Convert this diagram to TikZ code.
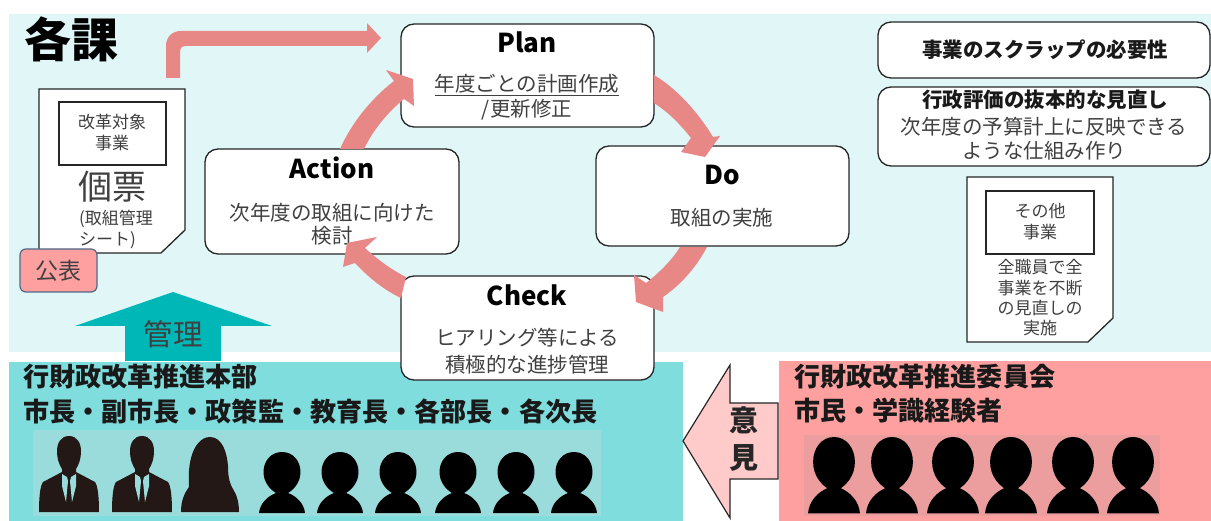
\documentclass[tikz,border=0pt]{standalone}
\usepackage{fontspec}
\setmainfont{Noto Sans CJK JP}
\definecolor{palebg}{HTML}{E0F6F7}
\definecolor{tealbg}{HTML}{7FDEDD}
\definecolor{pinkbg}{HTML}{FFA0A0}
\definecolor{tealband}{HTML}{9ADCDB}
\definecolor{pinkband}{HTML}{EC9E9E}
\definecolor{cyc}{HTML}{E88886}
\definecolor{upteal}{HTML}{00B7B8}
\definecolor{opin}{HTML}{FFCACA}
\definecolor{body}{HTML}{404040}
\definecolor{suit}{HTML}{231815}
\definecolor{slate}{HTML}{50688A}
\tikzset{
 cardbox/.style={draw=black!85,line width=1.3pt,fill=white,rounded corners=13pt},
 docbox/.style={draw=black!85,line width=1.3pt,fill=white},
 inbox/.style={draw=black!85,line width=1.3pt},
 cycarrow/.style={fill=cyc,draw=none},
 txt/.style={text=body,font=\fontsize{20.5}{24}\selectfont,inner sep=0pt},
 small/.style={text=body,font=\fontsize{17}{20}\selectfont,inner sep=0pt},
 ttl/.style={text=black,font=\fontsize{26}{30}\selectfont\bfseries,inner sep=0pt},
 bld/.style={text=black!90,font=\fontsize{20.5}{24}\selectfont\bfseries,inner sep=0pt},
 hdr/.style={text=black!90,font=\fontsize{26.1}{30}\selectfont\bfseries,inner sep=0pt,anchor=west},
}
\newcommand{\blob}[4]{% cx, head top, scale x, scale y
 \begin{scope}[shift={(#1,#2)},xscale=#3,yscale=#4]
  \fill[black] (0,0) .. controls (11,0) and (18.5,9) .. (18.5,20)
   .. controls (18.5,31) and (11,38) .. (6,41)
   .. controls (14,44) and (22,51) .. (23,61) -- (-23,61)
   .. controls (-22,51) and (-14,44) .. (-6,41)
   .. controls (-11,38) and (-18.5,31) .. (-18.5,20)
   .. controls (-18.5,9) and (-11,0) .. (0,0) -- cycle;
 \end{scope}}
\newcommand{\suitman}[1]{%
 \begin{scope}[shift={(#1,436)}]
  \fill[suit] (0,0) .. controls (8,0) and (12,7) .. (12,15)
   .. controls (12,24) and (9,30) .. (7,33) -- (7,36) -- (26,46)
   .. controls (29,50) and (30,62) .. (30,76) -- (-30,76)
   .. controls (-30,62) and (-29,50) .. (-26,46) -- (-7,36) -- (-7,33)
   .. controls (-9,30) and (-12,24) .. (-12,15)
   .. controls (-12,7) and (-8,0) .. (0,0) -- cycle;
  \fill[tealband] (-7,38) -- (-2,41) -- (-1,45) -- (-3,66) -- (-7,50) -- cycle;
  \fill[tealband] (7,38) -- (2,41) -- (1,45) -- (3,66) -- (7,50) -- cycle;
 \end{scope}}
\begin{document}
\begin{tikzpicture}[x=1pt,y=-1pt]
\useasboundingbox (0,0) rectangle (1211,521);
\fill[white] (0,0) rectangle (1211,521);
\fill[palebg] (9,14) rectangle (1211,352);
\fill[tealbg] (9,362) rectangle (683,521);
\fill[pinkbg] (779,361) rectangle (1211,521);
\fill[tealband] (33,430) rectangle (601,516);
\fill[pinkband] (804,435) rectangle (1160,516);

% title
\node[inner sep=0pt,text=black,font=\fontsize{47}{50}\selectfont\bfseries] (kaku) at (71,39) {各課};

% top arrow
\fill[cycarrow] (166,78) -- (166,46) .. controls (166,37) and (172,31) .. (181,31) -- (367,31) -- (367,23) -- (381,38) -- (367,53) -- (367,46) -- (186,46) .. controls (182,46) and (180,48) .. (180,52) -- (180,78) -- cycle;

% left document
\draw[docbox] (39,89) -- (185,89) -- (185,230) -- (161,253) -- (39,253) -- cycle;
\node[inbox,minimum width=107pt,minimum height=63pt,inner sep=0pt] (leftin) at (112.5,133.5) {};
\node[small] (l1) at (112,122) {改革対象};
\node[small] (l2) at (112,143) {事業};
\node[inner sep=0pt,text=body,font=\fontsize{34}{36}\selectfont] (l3) at (112,187) {個票};
\node[small,anchor=west] (l4) at (79,219) {(取組管理};
\node[small,anchor=west] (l5) at (79,240) {シート)};
\node[draw=slate,line width=1.2pt,fill=pinkbg,rounded corners=6pt,minimum width=77pt,minimum height=43pt,inner sep=0pt,text=body,font=\fontsize{23}{26}\selectfont] (pub) at (58.5,270.5) {公表};

% up arrow
\fill[upteal] (173,292) -- (272,326) -- (221,326) -- (221,361) -- (125,361) -- (125,326) -- (75,326) -- cycle;
\node[inner sep=0pt,text=body,font=\fontsize{29.5}{32}\selectfont] (kanri) at (173,334) {管理};

% cards
\node[cardbox,minimum width=253pt,minimum height=103pt] (plan) at (527.5,75.5) {};
\node[cardbox,minimum width=253pt,minimum height=100pt] (do) at (722.5,196) {};
\node[cardbox,minimum width=253pt,minimum height=104pt] (check) at (527.5,328) {};
\node[cardbox,minimum width=254pt,minimum height=105pt] (action) at (332,201.5) {};
\node[ttl] (t1) at (527,42) {Plan};
\node[txt] (t2) at (527,85) {\underline{年度ごとの計画作成}};
\node[txt] (t3) at (527,110) {/更新修正};
\node[ttl] (t4) at (722,175) {Do};
\node[txt] (t5) at (722,218) {取組の実施};
\node[ttl] (t6) at (527,295) {Check};
\node[txt] (t7) at (527,338) {ヒアリング等による};
\node[txt] (t8) at (527,365) {積極的な進捗管理};
\node[ttl] (t9) at (332,168) {Action};
\node[txt] (t10) at (332,213) {次年度の取組に向けた};
\node[txt] (t11) at (332,236) {検討};

% cycle arrows
\fill[cycarrow] (340,149) .. controls (352,122) and (372,98) .. (394,81) -- (386,70) -- (413,79) -- (414,106) -- (404,99) .. controls (388,112) and (373,130) .. (364,149) -- cycle;
\fill[cycarrow] (654,75) .. controls (676,88) and (698,112) .. (713,137) -- (720,136) -- (705,157) -- (681,152) -- (691,138) .. controls (680,124) and (668,112) .. (654,103) -- cycle;
\fill[cycarrow] (707,247) .. controls (697,266) and (682,284) .. (663,297) -- (663,312) -- (636,302) -- (634,275) -- (646,283) .. controls (660,272) and (672,260) .. (680,247) -- cycle;
\fill[cycarrow] (401,298) .. controls (384,290) and (369,278) .. (355,263) -- (343,267) -- (347,243) -- (377,237) -- (365,248) .. controls (378,260) and (392,270) .. (406,277) -- cycle;

% right column
\node[cardbox,minimum width=332pt,minimum height=56pt] (scrap) at (1044,50) {};
\node[bld] (r1) at (1045,50) {事業のスクラップの必要性};
\node[cardbox,minimum width=332pt,minimum height=79pt] (hyoka) at (1044,126.5) {};
\node[bld] (r2) at (1045,100) {行政評価の抜本的な見直し};
\node[txt] (r3) at (1044,127) {次年度の予算計上に反映できる};
\node[txt] (r4) at (1044,151) {ような仕組み作り};
\draw[docbox] (967,177) -- (1113,177) -- (1113,318) -- (1088,342) -- (967,342) -- cycle;
\node[inbox,minimum width=108pt,minimum height=63pt,inner sep=0pt] (rightin) at (1040,222.5) {};
\node[small] (r5) at (1040,211) {その他};
\node[small] (r6) at (1040,232) {事業};
\node[small] (r7) at (1040,267) {全職員で全};
\node[small] (r8) at (1040,288) {事業を不断};
\node[small] (r9) at (1040,308) {の見直しの};
\node[small] (r10) at (1040,328) {実施};

% opinion arrow
\draw[fill=opin,draw=black!85,line width=1.2pt] (683,441) -- (730,365) -- (730,403) -- (778,403) -- (778,479) -- (730,479) -- (730,518) -- cycle;
\node[inner sep=0pt,text=black!85,font=\fontsize{29}{32}\selectfont\bfseries] (iken1) at (744,420) {意};
\node[inner sep=0pt,text=black!85,font=\fontsize{29}{32}\selectfont\bfseries] (iken2) at (744,458) {見};

% headers
\node[hdr] (h1) at (23,377) {行財政改革推進本部};
\node[hdr] (h2) at (23,411) {市長・副市長・政策監・教育長・各部長・各次長};
\node[hdr] (h3) at (794,377) {行財政改革推進委員会};
\node[hdr] (h4) at (794,411) {市民・学識経験者};

% people
\suitman{69}
\suitman{142}
\fill[suit] (210,437) .. controls (222,437) and (227,452) .. (228,466) .. controls (228,478) and (230,484) .. (233,489) .. controls (237,495) and (239,503) .. (239,512) -- (181,512) .. controls (181,503) and (183,495) .. (189,487) .. controls (189,478) and (188,470) .. (191,458) .. controls (194,446) and (201,437) .. (210,437) -- cycle;
\foreach \c in {282,340,398,458,516,574} {\blob{\c}{452}{1}{1}}
\foreach \c in {834,892,953,1011,1073,1133} {\blob{\c}{437}{1.13}{1.25}}
\end{tikzpicture}
\end{document}
